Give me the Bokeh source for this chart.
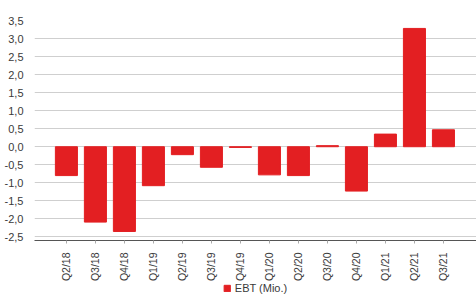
from bokeh.plotting import figure
from bokeh.layouts import column
from bokeh.models import Range1d, FixedTicker, CustomJSTickFormatter, Legend, LegendItem, ColumnDataSource
from bokeh.embed import file_html
from bokeh.resources import INLINE
import math

quarters = ["Q2/18", "Q3/18", "Q4/18", "Q1/19", "Q2/19", "Q3/19", "Q4/19",
            "Q1/20", "Q2/20", "Q3/20", "Q4/20", "Q1/21", "Q2/21", "Q3/21"]
ebt = [-0.80, -2.09, -2.35, -1.08, -0.22, -0.57, -0.02,
       -0.78, -0.80, 0.03, -1.23, 0.35, 3.28, 0.47]
y_ticks = [-2.5, -2.0, -1.5, -1.0, -0.5, 0.0, 0.5, 1.0, 1.5, 2.0, 2.5, 3.0, 3.5]
series_name = "EBT (Mio.)"

FONT = "Liberation Sans"
RED = "#e31f22"
TXT = "#3a3a3a"

xs = list(range(len(quarters)))
src = ColumnDataSource(data=dict(x=xs, q=quarters, v=ebt))

p = figure(width=476, height=284, output_backend="svg", toolbar_location=None,
           x_range=Range1d(-1.1, len(quarters) + 0.14),
           y_range=Range1d(-2.6, 3.5),
           min_border_left=34, min_border_right=0, min_border_top=20, min_border_bottom=40)
p.outline_line_color = None
p.background_fill_color = "white"
p.border_fill_color = "white"

r = p.vbar(x="x", top="v", bottom=0, width=0.76, source=src,
           fill_color=RED, line_color=RED)

p.xgrid.grid_line_color = None
p.ygrid.grid_line_color = "#cfcfcf"
p.ygrid.grid_line_width = 1

p.yaxis.ticker = FixedTicker(ticks=y_ticks)
p.yaxis.formatter = CustomJSTickFormatter(code="return tick.toFixed(1).replace('.', ',');")
p.yaxis.axis_line_color = None
p.yaxis.major_tick_line_color = None
p.yaxis.minor_tick_line_color = None
p.yaxis.major_label_text_font = FONT
p.yaxis.major_label_text_font_size = "11px"
p.yaxis.major_label_text_color = TXT
p.yaxis.major_label_standoff = 5

p.xaxis.ticker = FixedTicker(ticks=xs, minor_ticks=[])
p.xaxis.major_label_overrides = {i: q for i, q in zip(xs, quarters)}
p.xaxis.axis_line_color = "#555555"
p.xaxis.axis_line_width = 1.2
p.xaxis.major_tick_line_color = "#aaaaaa"
p.xaxis.major_tick_in = 0
p.xaxis.major_tick_out = 3
p.xaxis.minor_tick_line_color = None
p.xaxis.major_label_orientation = math.pi / 2
p.xaxis.major_label_text_font = FONT
p.xaxis.major_label_text_font_size = "10.5px"
p.xaxis.major_label_text_color = TXT
p.xaxis.major_label_standoff = 9

# legend strip below the chart (transparent, slightly overlapping the axis area)
lg = figure(width=476, height=12, output_backend="svg", toolbar_location=None,
            x_axis_location=None, y_axis_location=None,
            x_range=Range1d(0, 1), y_range=Range1d(0, 1),
            min_border_left=0, min_border_right=0, min_border_top=0, min_border_bottom=0,
            margin=(-2, 0, 0, 0))
lg.outline_line_color = None
lg.background_fill_color = None
lg.border_fill_color = None
lg.xgrid.grid_line_color = None
lg.ygrid.grid_line_color = None
lr = lg.vbar(x=[10], top=[10], bottom=9, width=0.5, fill_color=RED, line_color=RED)
legend = Legend(items=[LegendItem(label=series_name, renderers=[lr])],
                location="center", orientation="horizontal",
                label_text_font=FONT, label_text_font_size="11px", label_text_color=TXT,
                glyph_width=8, glyph_height=8, label_standoff=4,
                padding=0, margin=0, spacing=0, border_line_color=None,
                background_fill_alpha=0, label_height=12)
lg.add_layout(legend, "center")

layout = column(p, lg, spacing=0)
open("out.html", "w").write(file_html(layout, INLINE))
